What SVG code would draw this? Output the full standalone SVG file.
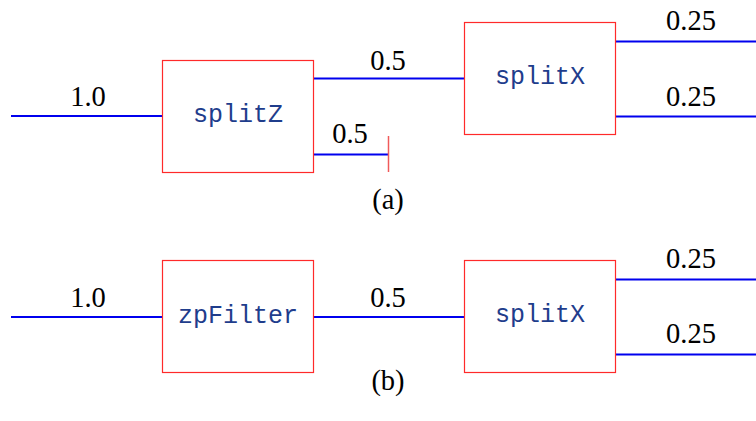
<svg xmlns="http://www.w3.org/2000/svg" width="756" height="421" viewBox="0 0 756 421">
<style>
.box{fill:#fff;stroke:#ff2a2a;stroke-width:1.2}
.wire{stroke:#0000ee;stroke-width:2.2;fill:none}
.stub{stroke:#f05a5a;stroke-width:1.5}
.lbl{font-family:"Liberation Serif",serif;font-size:28.5px;fill:#000;text-anchor:middle}
.name{font-family:"Liberation Mono",monospace;font-size:25px;fill:#1f3d8c;text-anchor:middle}
</style>
<rect width="756" height="421" fill="#fff"/>
<g id="connectors">
<line class="wire" x1="11" y1="116" x2="162" y2="116"/>
<line class="wire" x1="313" y1="78.5" x2="464" y2="78.5"/>
<line class="wire" x1="313" y1="154.5" x2="388.5" y2="154.5"/>
<line class="stub" x1="388.5" y1="136" x2="388.5" y2="172"/>
<line class="wire" x1="615" y1="41.5" x2="756" y2="41.5"/>
<line class="wire" x1="615" y1="116.5" x2="756" y2="116.5"/>
<line class="wire" x1="11" y1="317" x2="162" y2="317"/>
<line class="wire" x1="313" y1="317" x2="464" y2="317"/>
<line class="wire" x1="615" y1="279.5" x2="756" y2="279.5"/>
<line class="wire" x1="615" y1="354.5" x2="756" y2="354.5"/>
<text class="lbl" x="88" y="106">1.0</text>
<text class="lbl" x="388" y="70">0.5</text>
<text class="lbl" x="350" y="143">0.5</text>
<text class="lbl" x="691" y="30">0.25</text>
<text class="lbl" x="691" y="106">0.25</text>
<text class="lbl" x="88" y="307">1.0</text>
<text class="lbl" x="388" y="307">0.5</text>
<text class="lbl" x="691" y="268">0.25</text>
<text class="lbl" x="691" y="343">0.25</text>
</g>
<g id="splitZ"><rect class="box" x="162.5" y="60.5" width="151" height="112"/><text class="name" x="238" y="122">splitZ</text></g>
<g id="splitX-a"><rect class="box" x="464.5" y="22.5" width="151" height="112"/><text class="name" x="540" y="84">splitX</text></g>
<g id="zpFilter"><rect class="box" x="162.5" y="260.5" width="151" height="112"/><text class="name" x="238" y="323">zpFilter</text></g>
<g id="splitX-b"><rect class="box" x="464.5" y="260.5" width="151" height="112"/><text class="name" x="540" y="322">splitX</text></g>
<text class="lbl" x="388" y="209">(a)</text>
<text class="lbl" x="388" y="390">(b)</text>
</svg>
